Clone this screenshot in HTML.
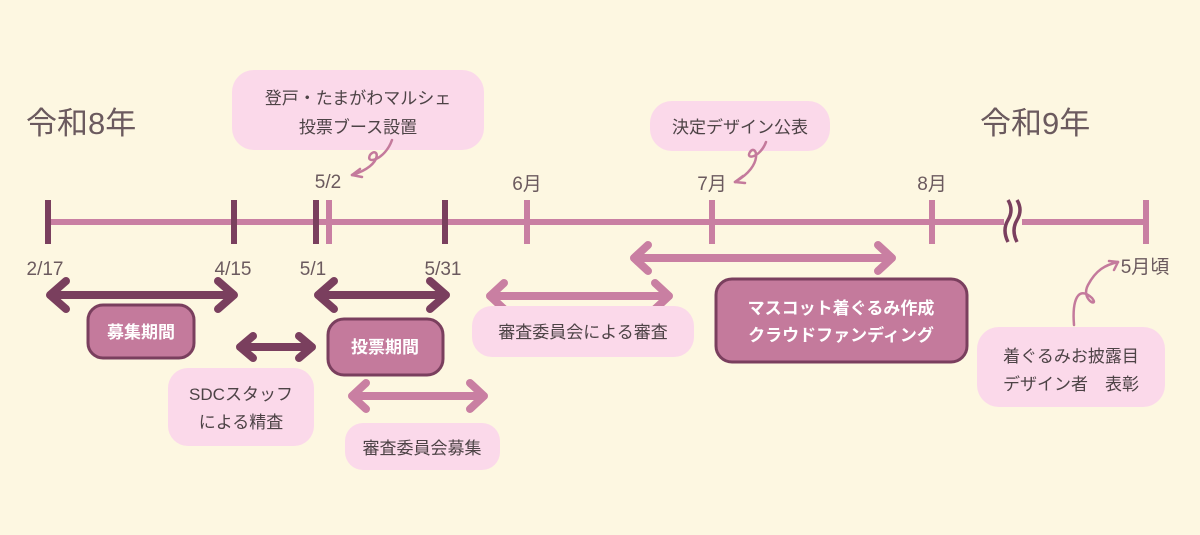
<!DOCTYPE html>
<html><head><meta charset="utf-8"><style>
body{margin:0;background:#fdf7e1;}
svg{display:block}
text{font-family:"Liberation Sans","Noto Sans CJK JP",sans-serif;}
</style></head><body>
<svg width="1200" height="535" viewBox="0 0 1200 535" xmlns="http://www.w3.org/2000/svg">
<rect width="1200" height="535" fill="#fdf7e1"/>
<g fill="#6b5a5e" font-size="31">
<text x="26" y="134">令和8年</text>
<text x="980" y="134">令和9年</text>
</g>
<line x1="48" y1="222" x2="1146" y2="222" stroke="#c97fa2" stroke-width="6"/>
<g stroke="#7a3f5e" stroke-width="6">
<line x1="48" y1="200" x2="48" y2="244"/><line x1="234" y1="200" x2="234" y2="244"/>
<line x1="316" y1="200" x2="316" y2="244"/><line x1="445" y1="200" x2="445" y2="244"/>
</g>
<g stroke="#c97fa2" stroke-width="6">
<line x1="329" y1="200" x2="329" y2="244"/><line x1="527" y1="200" x2="527" y2="244"/>
<line x1="712" y1="200" x2="712" y2="244"/><line x1="932" y1="200" x2="932" y2="244"/>
<line x1="1146" y1="200" x2="1146" y2="244"/>
</g>
<rect x="1004" y="205" width="18" height="36" fill="#fdf7e1"/>
<g stroke="#7a3f5e" stroke-width="3.5" fill="none">
<path d="M1008 200 q6 10 0 20 q-6 10 0 22"/><path d="M1017 200 q6 10 0 20 q-6 10 0 22"/>
</g>
<g fill="#6b5a5e" font-size="19" text-anchor="middle">
<text x="45" y="275">2/17</text><text x="233" y="275">4/15</text><text x="313" y="275">5/1</text><text x="443" y="275">5/31</text>
<text x="328" y="188">5/2</text><text x="527" y="190">6月</text><text x="712" y="190">7月</text><text x="932" y="190">8月</text>
<text x="1145" y="273">5月頃</text>
</g>
<g fill="none" stroke-linecap="round" stroke-linejoin="round">
<g stroke="#7a3f5e" stroke-width="8">
<path d="M52 295H232M66 281L50 295L66 309M218 281L234 295L218 309"/>
<path d="M318 295H446M334 281L318 295L334 309M430 281L446 295L430 309"/>
<path d="M240 347H312M253 336L240 347L253 358M299 336L312 347L299 358"/>
</g>
<g stroke="#c97fa2" stroke-width="8">
<path d="M352 396H484M366 383L352 396L366 409M470 383L484 396L470 409"/>
<path d="M490 296H669M504 283L490 296L504 309M655 283L669 296L655 309"/>
<path d="M634 258H892M648 245L634 258L648 271M878 245L892 258L878 271"/>
</g>
</g>
<g>
<rect x="232" y="70" width="252" height="80" rx="22" fill="#fbd9ea"/>
<rect x="650" y="101" width="180" height="50" rx="22" fill="#fbd9ea"/>
<rect x="168" y="368" width="146" height="78" rx="20" fill="#fbd9ea"/>
<rect x="345" y="423" width="155" height="47" rx="18" fill="#fbd9ea"/>
<rect x="472" y="306" width="222" height="51" rx="20" fill="#fbd9ea"/>
<rect x="977" y="327" width="188" height="80" rx="22" fill="#fbd9ea"/>
<rect x="88" y="305" width="106" height="53" rx="15" fill="#c47a9c" stroke="#7a3f5e" stroke-width="3"/>
<rect x="328" y="319" width="115" height="56" rx="16" fill="#c47a9c" stroke="#7a3f5e" stroke-width="3"/>
<rect x="716" y="279" width="251" height="83" rx="16" fill="#c47a9c" stroke="#7a3f5e" stroke-width="3"/>
</g>
<g fill="#4d4346" font-size="17" text-anchor="middle">
<text x="358" y="104">登戸・たまがわマルシェ</text>
<text x="358" y="133">投票ブース設置</text>
<text x="740" y="133">決定デザイン公表</text>
<text x="241" y="400">SDCスタッフ</text>
<text x="241" y="428">による精査</text>
<text x="422" y="454">審査委員会募集</text>
<text x="583" y="338">審査委員会による審査</text>
<text x="1071" y="362">着ぐるみお披露目</text>
<text x="1071" y="390">デザイン者　表彰</text>
</g>
<g fill="#fff" font-size="17" font-weight="bold" text-anchor="middle">
<text x="141" y="338">募集期間</text>
<text x="385" y="353">投票期間</text>
<text x="841" y="314">マスコット着ぐるみ作成</text>
<text x="841" y="341">クラウドファンディング</text>
</g>
<g fill="none" stroke="#c47a9c" stroke-width="2.5" stroke-linecap="round">
<path d="M392 140 C385 160 365 165 370 155 C378 145 385 165 352 175"/>
<path d="M352 175 l8 -6 M352 175 l10 2"/>
<path d="M766 142 C760 158 745 160 750 152 C756 143 765 165 735 182"/>
<path d="M735 182 l8 -6 M735 182 l10 1"/>
<path d="M1074 325 C1072 300 1078 285 1092 298 C1100 308 1080 300 1088 285 C1096 270 1105 265 1118 262"/>
<path d="M1118 262 l-9 -1 M1118 262 l-4 8"/>
</g>
</svg>
</body></html>
